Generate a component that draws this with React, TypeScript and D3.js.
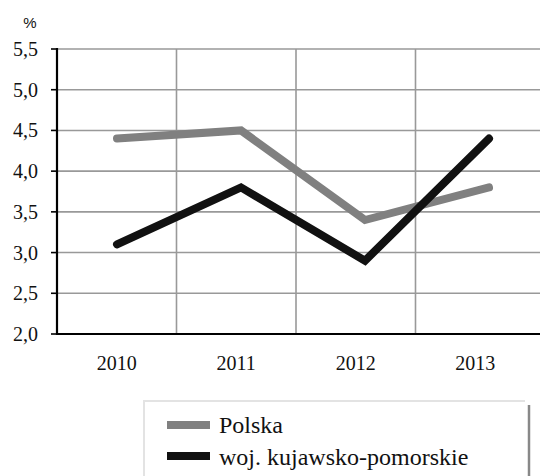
import React from "react";
import * as d3 from "d3";

const years = ["2010", "2011", "2012", "2013"];
const polska = [4.4, 4.5, 3.4, 3.8];
const kujawsko = [3.1, 3.8, 2.9, 4.4];
const yTicks = [2.0, 2.5, 3.0, 3.5, 4.0, 4.5, 5.0, 5.5];
const seriesNames = ["Polska", "woj. kujawsko-pomorskie"];
const seriesColors = ["#808080", "#111111"];

export default function App() {
  const W = 540, H = 476;
  const left = 57, top = 49, bottom = 334, gridRight = 540;
  const y = d3.scaleLinear().domain([2, 5.5]).range([bottom, top]);
  const xBand = d3.scaleBand<string>().domain(years).range([left, 535]).padding(0);
  const xLine = d3.scalePoint<string>().domain(years).range([117, 489]);
  const line = d3.line<number>().x((_, i) => xLine(years[i])!).y((d) => y(d));
  const series = [polska, kujawsko];
  const serifStyle = { fontFamily: "Liberation Serif, DejaVu Serif, serif" };

  return (
    <svg width={W} height={H} style={{ position: "absolute", left: 0, top: 0 }}>
      <rect width={W} height={H} fill="#fff" />
      <text x={30} y={28} style={{ fontFamily: "Liberation Sans, Arial, sans-serif" }} fontSize={15} textAnchor="middle" fill="#111">%</text>
      {yTicks.map((t) => (
        <g key={t}>
          {t > 2 && <line x1={left} x2={gridRight} y1={y(t)} y2={y(t)} stroke="#999" strokeWidth={1.6} />}
          <line x1={51} x2={left} y1={y(t)} y2={y(t)} stroke="#000" strokeWidth={1.6} />
          <text x={38} y={y(t) + 7} textAnchor="end" style={serifStyle} fontSize={20} fill="#111">
            {d3.format(".1f")(t).replace(".", ",")}
          </text>
        </g>
      ))}
      {years.slice(1).map((yr) => (
        <line key={yr} x1={xBand(yr)!} x2={xBand(yr)!} y1={top} y2={bottom} stroke="#999" strokeWidth={1.6} />
      ))}
      <line x1={left} x2={left} y1={top - 1} y2={bottom + 1} stroke="#000" strokeWidth={2.2} />
      <line x1={left} x2={gridRight} y1={bottom} y2={bottom} stroke="#000" strokeWidth={2.2} />
      {years.map((yr) => (
        <text key={yr} x={xBand(yr)! + xBand.bandwidth() / 2} y={370} textAnchor="middle" style={serifStyle} fontSize={20} fill="#111">
          {yr}
        </text>
      ))}
      {series.map((s, i) => (
        <path key={i} d={line(s)!} fill="none" stroke={seriesColors[i]} strokeWidth={8} strokeLinecap="round" strokeLinejoin="miter" />
      ))}
      <line x1={143} x2={525} y1={401} y2={401} stroke="#e3e3e3" strokeWidth={2} />
      <line x1={144} x2={144} y1={401} y2={H} stroke="#e3e3e3" strokeWidth={2} />
      <line x1={529} x2={529} y1={405} y2={H} stroke="#888" strokeWidth={2.5} />
      {seriesNames.map((n, i) => (
        <g key={n}>
          <line x1={167} x2={210} y1={425 + i * 31} y2={425 + i * 31} stroke={seriesColors[i]} strokeWidth={8} />
          <text x={219} y={433 + i * 32} style={serifStyle} fontSize={24} fill="#111">{n}</text>
        </g>
      ))}
    </svg>
  );
}
